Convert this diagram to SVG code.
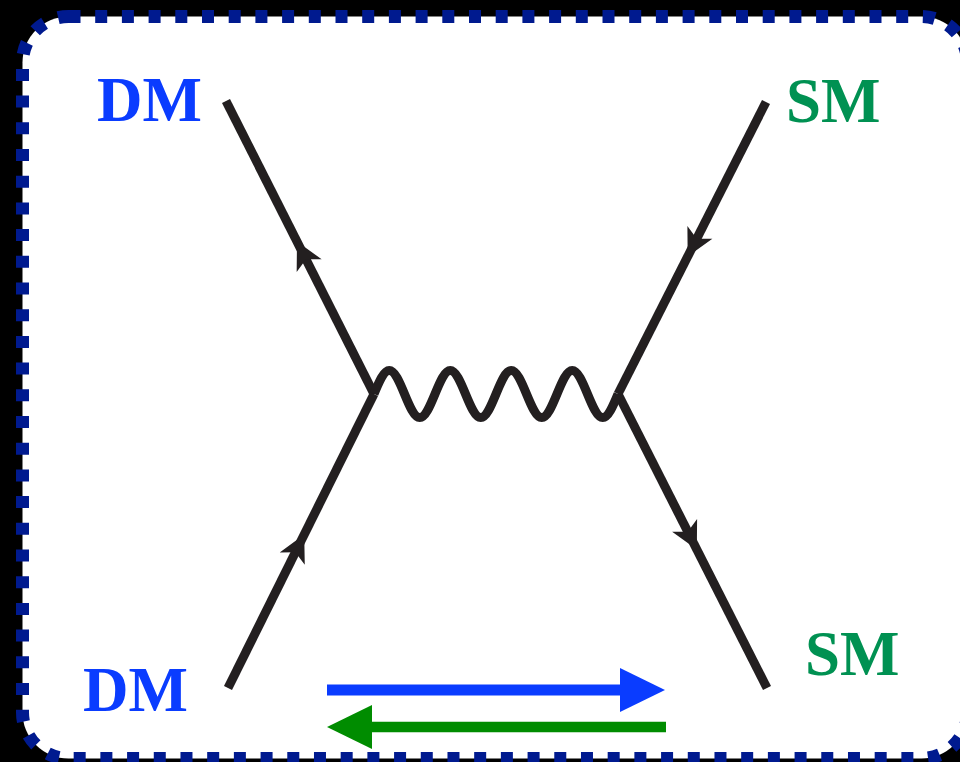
<svg xmlns="http://www.w3.org/2000/svg" xmlns:xlink="http://www.w3.org/1999/xlink" width="960" height="762" viewBox="0 0 960 762">
  <style>
    .fermion { stroke: #231f20; stroke-width: 9; fill: none; stroke-linecap: butt; }
    .boson { stroke: #231f20; stroke-width: 9; fill: none; stroke-linejoin: round; }
    .label { font-family: "Liberation Serif", "Times New Roman", serif; font-weight: bold; font-size: 63px; }
    .dm { fill: #0a3cff; }
    .sm { fill: #009152; }
  </style>
  <defs>
    <path id="ahead" d="M14,0 L-13,-14 L-6,0 L-13,14 Z" fill="#231f20"/>
  </defs>
  <rect x="0" y="0" width="960" height="762" fill="#000"/>
  <rect x="22.5" y="16.5" width="945" height="742" rx="46" ry="46" fill="#fff" stroke="#001a8f" stroke-width="13" stroke-dasharray="12 14.7"/>

  <g id="connectors">
    <g id="line-dm-out">
      <line class="fermion" x1="226" y1="101" x2="374" y2="394"/>
      <use xlink:href="#ahead" transform="translate(303.3,254) rotate(-116.8)"/>
    </g>
    <g id="line-dm-in">
      <line class="fermion" x1="228" y1="688" x2="374" y2="394"/>
      <use xlink:href="#ahead" transform="translate(298,547) rotate(-63.6)"/>
    </g>
    <g id="line-sm-in">
      <line class="fermion" x1="766" y1="102" x2="618" y2="394"/>
      <use xlink:href="#ahead" transform="translate(694,244) rotate(116.9)"/>
    </g>
    <g id="line-sm-out">
      <line class="fermion" x1="618" y1="394" x2="767" y2="688"/>
      <use xlink:href="#ahead" transform="translate(690.5,537) rotate(63.1)"/>
    </g>
    <path id="mediator" class="boson" d="M374,394
      c4.97,-12.03 9.74,-23.5 15.25,-23.5 c5.51,0 10.28,11.47 15.25,23.5 c4.97,12.03 9.74,23.5 15.25,23.5 c5.51,0 10.28,-11.47 15.25,-23.5
      c4.97,-12.03 9.74,-23.5 15.25,-23.5 c5.51,0 10.28,11.47 15.25,23.5 c4.97,12.03 9.74,23.5 15.25,23.5 c5.51,0 10.28,-11.47 15.25,-23.5
      c4.97,-12.03 9.74,-23.5 15.25,-23.5 c5.51,0 10.28,11.47 15.25,23.5 c4.97,12.03 9.74,23.5 15.25,23.5 c5.51,0 10.28,-11.47 15.25,-23.5
      c4.97,-12.03 9.74,-23.5 15.25,-23.5 c5.51,0 10.28,11.47 15.25,23.5 c4.97,12.03 9.74,23.5 15.25,23.5 c5.51,0 10.28,-11.47 15.25,-23.5"/>
    <g id="arrow-forward">
      <line x1="327" y1="690" x2="622" y2="690" stroke="#0a3cff" stroke-width="11"/>
      <polygon points="620,668 665,690 620,712" fill="#0a3cff"/>
    </g>
    <g id="arrow-backward">
      <line x1="370" y1="727" x2="666" y2="727" stroke="#008c00" stroke-width="10.5"/>
      <polygon points="372,705 327,727 372,749" fill="#008c00"/>
    </g>
  </g>

  <g id="node-dm-top"><text class="label dm" x="97" y="121">DM</text></g>
  <g id="node-dm-bottom"><text class="label dm" x="83" y="711">DM</text></g>
  <g id="node-sm-top"><text class="label sm" x="786" y="122">SM</text></g>
  <g id="node-sm-bottom"><text class="label sm" x="805" y="675">SM</text></g>
</svg>
